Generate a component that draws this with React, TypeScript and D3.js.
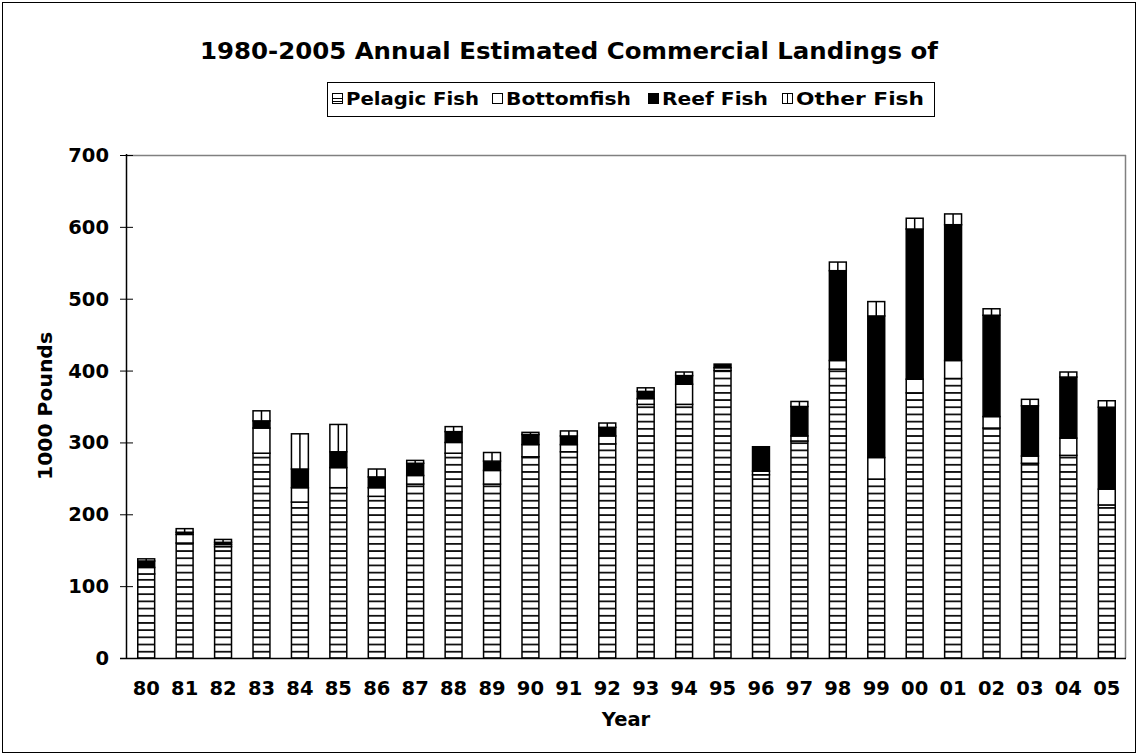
import React from "react";
import * as d3 from "d3";

const years = ["80","81","82","83","84","85","86","87","88","89","90","91","92","93","94","95","96","97","98","99","00","01","02","03","04","05"];
const pelagic = [117, 160, 155, 285, 217, 237, 225, 242, 285, 242, 280, 287, 298, 353, 353, 400, 255, 302, 402, 249, 369, 389, 320, 271, 282, 213];
const bottomfish = [9, 12, 3, 35, 20, 28, 12, 12, 15, 19, 17, 10, 11, 8, 28, 4, 5, 7, 12, 30, 19, 25, 16, 10, 24, 22];
const reef = [9, 3, 3, 10, 26, 22, 15, 17, 15, 13, 14, 12, 12, 10, 12, 5, 34, 41, 125, 197, 209, 189, 141, 70, 85, 114];
const other = [3, 5, 4, 14, 49, 38, 11, 4, 7, 12, 3, 7, 6, 5, 5, 0, 0, 7, 12, 20, 15, 15, 9, 9, 7, 9];
const seriesNames = ["Pelagic Fish", "Bottomfish", "Reef Fish", "Other Fish"];
const seriesKeys = ["pelagic", "bottomfish", "reef", "other"];
const yTicks = [0, 100, 200, 300, 400, 500, 600, 700];

const W = 1138, H = 755;
const plot = { left: 127, right: 1126, top: 155, bottom: 658 };
const FONT = "'DejaVu Sans', Verdana, sans-serif";

export default function App() {
  const rows = years.map((y, i) => ({
    year: y,
    pelagic: pelagic[i],
    bottomfish: bottomfish[i],
    reef: reef[i],
    other: other[i],
  }));
  const stack = d3.stack<any>().keys(seriesKeys);
  const stacked = stack(rows);

  const x = d3.scaleBand<string>().domain(years).range([plot.left, plot.right]).paddingInner(0.56).paddingOuter(0.28);
  const y = d3.scaleLinear().domain([0, 700]).range([plot.bottom, plot.top]);
  const bw = x.bandwidth();

  const fillFor = (k: string) =>
    k === "pelagic" ? "url(#hstripe)" : k === "reef" ? "#000" : "#fff";

  const legendItems = [
    { key: "pelagic", x: 332, len: 133 },
    { key: "bottomfish", x: 492, len: 125 },
    { key: "reef", x: 648, len: 106 },
    { key: "other", x: 782, len: 128 },
  ];
  const legY = 98;

  return (
    <svg width={W} height={H} style={{ position: "absolute", left: 0, top: 0, background: "#fff" }} fontFamily={FONT}>
      <defs>
        <pattern id="hstripe" patternUnits="userSpaceOnUse" x={0} y={plot.bottom} width={10} height={7.19}>
          <rect x={0} y={0} width={10} height={7.19} fill="#fff" />
          <rect x={0} y={0} width={10} height={1.8} fill="#111" />
        </pattern>
      </defs>
      <rect x={0} y={0} width={W} height={H} fill="#fff" />
      <rect x={2.5} y={2.5} width={W - 5} height={H - 5} fill="none" stroke="#000" strokeWidth={1} />

      <text x={569} y={59} textAnchor="middle" fontSize={23.5} fontWeight="bold" fill="#000" textLength={738} lengthAdjust="spacingAndGlyphs">
        1980-2005 Annual Estimated Commercial Landings of
      </text>

      {/* legend */}
      <rect x={327.5} y={82.5} width={607} height={34} fill="#fff" stroke="#000" strokeWidth={1} />
      {legendItems.map((it, i) => (
        <g key={it.key}>
          {it.key === "pelagic" ? (
            <g>
              <rect x={it.x + 0.5} y={legY - 4.5} width={10} height={10} fill="#fff" stroke="#000" />
              <line x1={it.x} x2={it.x + 11} y1={legY + 0.5} y2={legY + 0.5} stroke="#000" />
              <line x1={it.x} x2={it.x + 11} y1={legY + 3.5} y2={legY + 3.5} stroke="#000" />
            </g>
          ) : it.key === "other" ? (
            <g>
              <rect x={it.x + 0.5} y={legY - 4.5} width={10} height={10} fill="#fff" stroke="#000" />
              <line x1={it.x + 5.5} x2={it.x + 5.5} y1={legY - 4.5} y2={legY + 5.5} stroke="#000" />
            </g>
          ) : (
            <rect x={it.x + 0.5} y={legY - 4.5} width={10} height={10} fill={fillFor(it.key)} stroke="#000" />
          )}
          <text x={it.x + 14} y={legY + 7} fontSize={17} fontWeight="bold" fill="#000" textLength={it.len} lengthAdjust="spacingAndGlyphs">
            {seriesNames[i]}
          </text>
        </g>
      ))}

      {/* plot frame */}
      <line x1={plot.left} x2={plot.right} y1={plot.top + 0.5} y2={plot.top + 0.5} stroke="#808080" strokeWidth={1.5} />
      <line x1={plot.right - 0.5} x2={plot.right - 0.5} y1={plot.top} y2={plot.bottom} stroke="#808080" strokeWidth={1.5} />

      {/* bars */}
      {stacked.map((s) => (
        <g key={s.key}>
          {s.map((d, i) => {
            const v = d[1] - d[0];
            if (v <= 0) return null;
            const x0 = x(years[i])!;
            const yTop = y(d[1]);
            const yBot = y(d[0]);
            return (
              <g key={i}>
                <rect x={x0} y={yTop} width={bw} height={yBot - yTop} fill={fillFor(s.key)} stroke="#000" strokeWidth={1.5} />
                {s.key === "other" && (
                  <line x1={x0 + bw / 2} x2={x0 + bw / 2} y1={yTop} y2={yBot} stroke="#000" strokeWidth={1.5} />
                )}
              </g>
            );
          })}
        </g>
      ))}

      {/* axes */}
      <line x1={plot.left - 0.5} x2={plot.left - 0.5} y1={plot.top - 1} y2={plot.bottom} stroke="#000" strokeWidth={1.5} />
      <line x1={plot.left - 7} x2={plot.right} y1={plot.bottom + 0.5} y2={plot.bottom + 0.5} stroke="#000" strokeWidth={1.5} />
      {yTicks.map((t) => (
        <g key={t}>
          <line x1={plot.left - 7} x2={plot.left + 6} y1={y(t) + 0.5} y2={y(t) + 0.5} stroke="#000" strokeWidth={1} />
          <text x={109} y={y(t) + 7} textAnchor="end" fontSize={19.5} fontWeight="bold" fill="#000">
            {t}
          </text>
        </g>
      ))}
      {years.map((yr) => (
        <text key={yr} x={x(yr)! + bw / 2} y={695} textAnchor="middle" fontSize={19.5} fontWeight="bold" fill="#000">
          {yr}
        </text>
      ))}
      <text x={626} y={726} textAnchor="middle" fontSize={19.5} fontWeight="bold" fill="#000">
        Year
      </text>
      <text transform={`translate(52, 406) rotate(-90)`} textAnchor="middle" fontSize={19.5} fontWeight="bold" fill="#000" textLength={148} lengthAdjust="spacingAndGlyphs">
        1000 Pounds
      </text>
    </svg>
  );
}
